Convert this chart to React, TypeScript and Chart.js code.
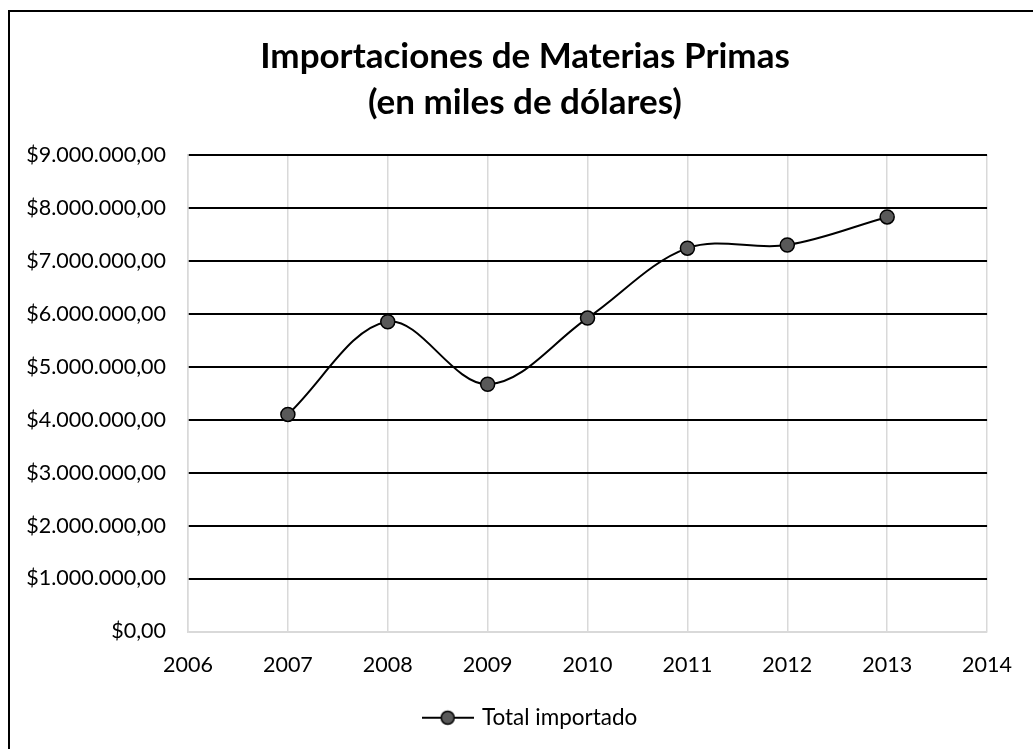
import React, { useEffect, useRef } from "react";
import { Chart, registerables } from "chart.js";

Chart.register(...registerables);

const titleLines = ["Importaciones de Materias Primas", "(en miles de dólares)"];
const seriesLabel = "Total importado";
const years = [2007, 2008, 2009, 2010, 2011, 2012, 2013];
const imports = [4100000, 5850000, 4670000, 5920000, 7240000, 7300000, 7830000];
const xMin = 2006;
const xMax = 2014;
const yMin = 0;
const yMax = 9000000;
const yStep = 1000000;

function formatMoney(v: number): string {
  const n = Math.round(v);
  const s = String(n).replace(/\B(?=(\d{3})+(?!\d))/g, ".");
  return "$" + s + ",00";
}

function makeLegendImage(): HTMLCanvasElement {
  const c = document.createElement("canvas");
  c.width = 52;
  c.height = 18;
  const ctx = c.getContext("2d")!;
  ctx.strokeStyle = "#000";
  ctx.lineWidth = 2;
  ctx.beginPath();
  ctx.moveTo(0, 9);
  ctx.lineTo(52, 9);
  ctx.stroke();
  ctx.beginPath();
  ctx.arc(26, 9, 6.5, 0, Math.PI * 2);
  ctx.fillStyle = "#595959";
  ctx.fill();
  ctx.lineWidth = 1.5;
  ctx.stroke();
  return c;
}

const boxShift = {
  id: "boxShift",
  afterLayout(chart: any) {
    const lg = chart.legend;
    if (lg) {
      lg.left += 31;
      lg.right += 31;
    }
    const tt = chart.titleBlock;
    if (tt) {
      tt.left += 25;
      tt.right += 25;
    }
  },
};

export default function App() {
  const ref = useRef<HTMLCanvasElement>(null);

  useEffect(() => {
    document.documentElement.style.overflow = "hidden";
    const legendImg = makeLegendImage();
    const font = "Lato, 'Open Sans', sans-serif";
    const chart = new Chart(ref.current!, {
      type: "line",
      plugins: [boxShift],
      data: {
        datasets: [
          {
            label: seriesLabel,
            data: years.map((y, i) => ({ x: y, y: imports[i] })),
            borderColor: "#000",
            borderWidth: 2,
            tension: 0.35,
            pointRadius: 7,
            pointBackgroundColor: "#595959",
            pointBorderColor: "#000",
            pointBorderWidth: 1.5,
          },
        ],
      },
      options: {
        responsive: false,
        animation: false,
        layout: { padding: { left: 10, right: 43, top: 10, bottom: 10 } },
        plugins: {
          tooltip: { enabled: false },
          title: {
            display: true,
            text: titleLines,
            color: "#000",
            font: { family: font, size: 35, weight: "bold", lineHeight: 46 / 35 },
            padding: { top: 24, bottom: 29 },
          },
          legend: {
            position: "bottom",
            labels: {
              color: "#000",
              font: { family: font, size: 22.5 },
              usePointStyle: true,
              pointStyleWidth: 46,
              padding: 10,
              generateLabels: (ch: any) =>
                ch.data.datasets.map((ds: any, i: number) => ({
                  text: ds.label,
                  pointStyle: legendImg,
                  fillStyle: "#595959",
                  strokeStyle: "#000",
                  lineWidth: 0,
                  hidden: false,
                  datasetIndex: i,
                  fontColor: "#000",
                })),
            },
          },
        },
        scales: {
          x: {
            type: "linear",
            min: xMin,
            max: xMax,
            afterFit: (s: any) => {
              s.height = 65;
            },
            ticks: {
              stepSize: 1,
              color: "#000",
              padding: 21,
              font: { family: font, size: 21.5 },
              callback: (v: any) => String(v),
            },
            grid: {
              color: "#d9d9d9",
              lineWidth: 1.5,
              drawTicks: false,
            },
            border: { color: "#d9d9d9", width: 1.5 },
          },
          y: {
            min: yMin,
            max: yMax,
            afterFit: (s: any) => {
              s.width = 178;
            },
            ticks: {
              stepSize: yStep,
              color: "#000",
              padding: 22,
              font: { family: font, size: 21.5 },
              callback: (v: any) => formatMoney(Number(v)),
            },
            grid: {
              color: (ctx: any) => (ctx.tick && ctx.tick.value === 0 ? "#d9d9d9" : "#000"),
              lineWidth: 2,
              drawTicks: false,
            },
            border: { color: "#d9d9d9", width: 1.5 },
          },
        },
      },
    });
    return () => chart.destroy();
  }, []);

  return (
    <div
      style={{
        position: "fixed",
        left: 0,
        top: 0,
        width: 1033,
        height: 749,
        overflow: "hidden",
        background: "#fff",
      }}
    >
      <div
        style={{
          position: "absolute",
          left: 8,
          top: 10,
          width: 1100,
          height: 800,
          border: "2px solid #000",
        }}
      />
      <canvas
        ref={ref}
        width={1033}
        height={749}
        style={{ position: "absolute", left: 0, top: 0, width: 1033, height: 749 }}
      />
    </div>
  );
}
